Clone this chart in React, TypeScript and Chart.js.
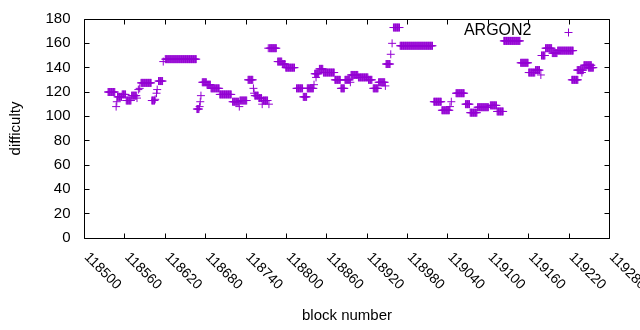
import { useEffect, useRef } from "react";
import { Chart, registerables } from "chart.js";

Chart.register(...registerables);

// Runs of consecutive blocks sharing one difficulty value
const runStart = [
  118535, 118547, 118548, 118549, 118556, 118562, 118570, 118578, 118580, 118582,
  118584, 118600, 118605, 118607, 118608, 118610, 118617, 118620, 118667, 118671,
  118672, 118673, 118675, 118682, 118688, 118701, 118720, 118730, 118731, 118743,
  118751, 118752, 118753, 118759, 118764, 118765, 118773, 118774, 118775, 118787,
  118794, 118799, 118815, 118825, 118831, 118841, 118842, 118844, 118849, 118855,
  118872, 118881, 118887, 118895, 118896, 118907, 118922, 118929, 118937, 118947,
  118948, 118955, 118957, 118959, 118969, 119019, 119031, 119043, 119045, 119052,
  119066, 119073, 119084, 119103, 119113, 119123, 119148, 119160, 119170, 119178,
  119179, 119185, 119195, 119203, 119224, 119232, 119239, 119242, 119249,
];
const runEnd = [
  118545, 118547, 118548, 118555, 118561, 118569, 118577, 118578, 118580, 118582,
  118599, 118604, 118605, 118607, 118608, 118616, 118617, 118666, 118670, 118671,
  118672, 118673, 118681, 118687, 118700, 118718, 118729, 118730, 118741, 118750,
  118751, 118752, 118758, 118763, 118764, 118772, 118773, 118774, 118785, 118793,
  118798, 118812, 118824, 118830, 118840, 118841, 118848, 118844, 118854, 118871,
  118880, 118886, 118894, 118895, 118906, 118921, 118927, 118936, 118946, 118947,
  118954, 118955, 118957, 118968, 119017, 119030, 119042, 119043, 119045, 119064,
  119072, 119083, 119100, 119112, 119122, 119147, 119159, 119169, 119176, 119178,
  119184, 119194, 119202, 119226, 119233, 119241, 119239, 119253, 119256,
];
const runValue = [
  120, 108, 112, 116, 118, 113, 117, 115, 122, 123,
  127.5, 113, 114, 119, 122, 129, 145, 147, 106, 108,
  112, 117, 128, 126, 123, 118, 112, 108, 113, 130,
  123, 119, 117, 115, 110, 113, 156, 110, 156, 145,
  143, 140, 123, 116, 123, 126, 135, 132, 139, 136,
  130, 123, 130, 128, 134, 132, 130, 123, 128, 125,
  143, 151, 160, 173, 158, 112, 105, 108, 112, 119,
  110, 103, 107.5, 109, 104, 162, 144, 136, 138, 134,
  150, 156, 152, 154, 130, 138, 136, 142, 140,
];

const xMin = 118500;
const xMax = 119280;
const xStep = 60;
const yMin = 0;
const yMax = 180;
const yStep = 20;

const seriesName = "ARGON2";
const xTitle = "block number";
const yTitle = "difficulty";

const COLOR = "#9400D3";
const FONT = "'Liberation Sans', Arial, sans-serif";

export default function App() {
  const ref = useRef<HTMLCanvasElement>(null);

  useEffect(() => {
    const canvas = ref.current;
    if (!canvas) return;

    const points: { x: number; y: number }[] = [];
    runStart.forEach((s, i) => {
      for (let b = s; b <= runEnd[i]; b++) points.push({ x: b, y: runValue[i] });
    });

    const framePlugin = {
      id: "gnuFrame",
      afterDraw(chart: any) {
        const ctx = chart.ctx as CanvasRenderingContext2D;
        const { left, right, top, bottom } = chart.chartArea;
        const L = Math.floor(left) + 0.5;
        const R = Math.floor(right) + 0.5;
        const T = Math.floor(top) + 0.5;
        const B = Math.floor(bottom) + 0.5;
        const tl = 5;
        ctx.save();
        ctx.strokeStyle = "#000";
        ctx.lineWidth = 1;
        ctx.beginPath();
        ctx.rect(L, T, R - L, B - T);
        const xs = chart.scales.x;
        const ys = chart.scales.y;
        xs.ticks.forEach((t: any) => {
          const px = Math.floor(xs.getPixelForValue(t.value)) + 0.5;
          ctx.moveTo(px, B);
          ctx.lineTo(px, B - tl);
          ctx.moveTo(px, T);
          ctx.lineTo(px, T + tl);
        });
        ys.ticks.forEach((t: any) => {
          const py = Math.floor(ys.getPixelForValue(t.value)) + 0.5;
          ctx.moveTo(L, py);
          ctx.lineTo(L + tl, py);
          ctx.moveTo(R, py);
          ctx.lineTo(R - tl, py);
        });
        ctx.stroke();

        // rotated x tick labels (text starts at the tick, going down-right)
        ctx.fillStyle = "#000";
        ctx.font = `14px ${FONT}`;
        ctx.textAlign = "left";
        ctx.textBaseline = "middle";
        xs.ticks.forEach((t: any) => {
          const px = xs.getPixelForValue(t.value);
          ctx.save();
          ctx.translate(px + 2, bottom + 17);
          ctx.rotate(Math.PI / 4);
          ctx.fillText(String(t.value), 0, 0);
          ctx.restore();
        });

        // key
        ctx.font = `16px ${FONT}`;
        ctx.textAlign = "right";
        ctx.textBaseline = "middle";
        const ky = top + 12;
        ctx.fillText(seriesName, right - 78, ky);
        const sx = Math.round(right - 42) + 0.5;
        const sy = Math.round(ky + 1) + 0.5;
        ctx.strokeStyle = COLOR;
        ctx.beginPath();
        ctx.moveTo(sx - 4, sy);
        ctx.lineTo(sx + 4, sy);
        ctx.moveTo(sx, sy - 4);
        ctx.lineTo(sx, sy + 4);
        ctx.stroke();
        ctx.restore();
      },
    };

    const chart = new Chart(canvas, {
      type: "scatter",
      data: {
        datasets: [
          {
            label: seriesName,
            data: points,
            pointStyle: "cross",
            pointRadius: 4,
            pointHoverRadius: 4,
            pointBorderWidth: 1,
            pointBorderColor: COLOR,
            pointBackgroundColor: COLOR,
            borderColor: COLOR,
            backgroundColor: COLOR,
            showLine: false,
          },
        ],
      },
      options: {
        responsive: false,
        animation: false,
        devicePixelRatio: 1,
        layout: { padding: { top: 19, right: 30.5, left: 0, bottom: 0 } },
        plugins: {
          legend: { display: false },
          tooltip: { enabled: false },
        },
        scales: {
          x: {
            type: "linear",
            min: xMin,
            max: xMax,
            ticks: { display: false, stepSize: xStep },
            grid: { display: false, drawTicks: false },
            border: { display: false },
            title: {
              display: true,
              text: xTitle,
              color: "#000",
              font: { family: FONT, size: 15 },
              padding: { top: 0, bottom: 5 },
            },
            afterFit(scale: any) {
              scale.height = 92;
              scale.paddingLeft = 0;
              scale.paddingRight = 0;
            },
          },
          y: {
            type: "linear",
            min: yMin,
            max: yMax,
            ticks: {
              stepSize: yStep,
              color: "#000",
              font: { family: FONT, size: 15 },
              padding: 14,
            },
            grid: { display: false, drawTicks: false },
            border: { display: false },
            title: {
              display: true,
              text: yTitle,
              color: "#000",
              font: { family: FONT, size: 15 },
              padding: { top: 7, bottom: 0 },
            },
            afterFit(scale: any) {
              scale.width = 84.5;
              scale.paddingTop = 0;
              scale.paddingBottom = 0;
            },
          },
        },
      } as any,
      plugins: [framePlugin],
    });

    return () => chart.destroy();
  }, []);

  return (
    <canvas
      ref={ref}
      width={640}
      height={330}
      style={{ position: "absolute", left: 0, top: 0, width: 640, height: 330, display: "block" }}
    />
  );
}
